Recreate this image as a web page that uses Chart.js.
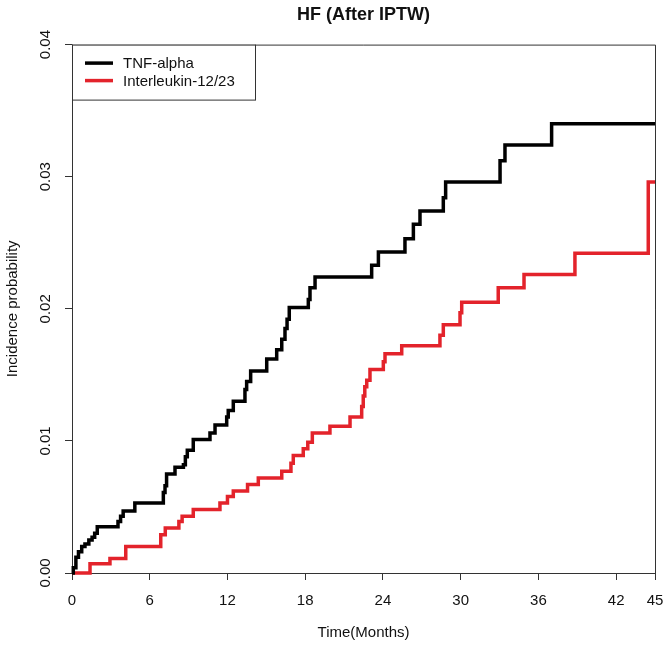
<!DOCTYPE html>
<html>
<head>
<meta charset="utf-8">
<script src="https://cdn.jsdelivr.net/npm/chart.js@4.4.1/dist/chart.umd.min.js"></script>
<style>
  html, body { margin: 0; padding: 0; background: #fff; }
</style>
</head>
<body>
<canvas id="chart" width="667" height="649"></canvas>
<script>
// cumulative incidence steps (months, probability)
const tnfMonths = [0, 0.1, 0.3, 0.5, 0.75, 1.0, 1.3, 1.55, 1.75, 1.95, 3.55, 3.75, 3.95, 4.85,
  7.05, 7.18, 7.3, 7.95, 8.6, 8.75, 8.9, 9.36, 10.65, 11.04, 11.94, 12.06, 12.45, 13.35, 13.48,
  13.79, 15.03, 15.8, 16.19, 16.44, 16.6, 16.77, 18.24, 18.37, 18.76, 23.13, 23.65, 25.7, 26.35,
  26.86, 28.66, 28.84, 33.04, 33.42, 37.02, 45];
const tnfProb = [0, 0.0004, 0.0012, 0.0016, 0.0020, 0.0022, 0.0025, 0.0027, 0.0030, 0.0035, 0.0039, 0.0043, 0.0047, 0.0053,
  0.0061, 0.0066, 0.0075, 0.0080, 0.0082, 0.0088, 0.0093, 0.0101, 0.0106, 0.0112, 0.0118, 0.0123, 0.0130, 0.0139, 0.0145,
  0.0153, 0.0162, 0.0169, 0.0177, 0.0185, 0.0192, 0.0201, 0.0207, 0.0216, 0.0224, 0.0233, 0.0243, 0.0253, 0.0264,
  0.0274, 0.0284, 0.0296, 0.0312, 0.0324, 0.0340, 0.0340];

const ilMonths = [0, 1.39, 2.93, 4.15, 6.85, 7.2, 8.25, 8.5, 9.36, 11.42, 12.0, 12.45, 13.55, 14.38,
  16.19, 16.9, 17.08, 17.85, 18.2, 18.55, 19.91, 21.46, 22.36, 22.48, 22.6, 22.75, 23.0, 24.03,
  24.16, 25.45, 28.4, 28.66, 29.95, 30.08, 32.9, 34.89, 38.82, 44.48, 45];
const ilProb = [0, 0.0007, 0.0011, 0.0020, 0.0029, 0.0034, 0.0039, 0.0043, 0.0048, 0.0053, 0.0058, 0.0062, 0.0067, 0.0072,
  0.0077, 0.0083, 0.0089, 0.0094, 0.0099, 0.0106, 0.0111, 0.0118, 0.0126, 0.0134, 0.0141, 0.0146, 0.0154, 0.0160,
  0.0166, 0.0172, 0.0180, 0.0188, 0.0197, 0.0205, 0.0216, 0.0226, 0.0242, 0.0296, 0.0296];

const seriesLabels = ['TNF-alpha', 'Interleukin-12/23'];
const xTickValues = [0, 6, 12, 18, 24, 30, 36, 42, 45];
const yTickValues = [0, 0.01, 0.02, 0.03, 0.04];

const toPoints = (xs, ys) => xs.map((x, i) => ({ x: x, y: ys[i] }));

const axisColor = '#333';
const baseFont = { family: '"Liberation Sans", Arial, sans-serif', size: 15 };

// R style box around the plot region plus the boxed legend top-left
const boxPlugin = {
  id: 'boxAndLegend',
  afterDatasetsDraw(chart) {
    const { ctx, chartArea } = chart;
    ctx.save();
    ctx.strokeStyle = axisColor;
    ctx.lineWidth = 1;
    ctx.beginPath();
    ctx.moveTo(chartArea.left, chartArea.top + 0.5);
    ctx.lineTo(chartArea.right + 0.5, chartArea.top + 0.5);
    ctx.lineTo(chartArea.right + 0.5, chartArea.bottom);
    ctx.stroke();

    const lx = chartArea.left, ly = chartArea.top, lw = 183, lh = 55;
    ctx.fillStyle = '#fff';
    ctx.fillRect(lx, ly, lw, lh);
    ctx.strokeRect(lx + 0.5, ly + 0.5, lw, lh);

    ctx.font = '15px "Liberation Sans", Arial, sans-serif';
    ctx.textBaseline = 'middle';
    ctx.textAlign = 'left';
    chart.data.datasets.forEach((ds, i) => {
      const y = ly + 18.5 + i * 17.5;
      ctx.strokeStyle = ds.borderColor;
      ctx.lineWidth = 3.5;
      ctx.beginPath();
      ctx.moveTo(lx + 13, y);
      ctx.lineTo(lx + 41, y);
      ctx.stroke();
      ctx.fillStyle = '#111';
      ctx.fillText(ds.label, lx + 51, y + 1);
    });
    ctx.restore();
  }
};

new Chart(document.getElementById('chart'), {
  type: 'line',
  data: {
    datasets: [
      {
        label: seriesLabels[0],
        data: toPoints(tnfMonths, tnfProb),
        borderColor: '#000',
        borderWidth: 3.5,
        stepped: true,
        pointRadius: 0,
        clip: false
      },
      {
        label: seriesLabels[1],
        data: toPoints(ilMonths, ilProb),
        borderColor: '#e3232b',
        borderWidth: 3.5,
        stepped: true,
        pointRadius: 0,
        clip: false
      }
    ]
  },
  options: {
    responsive: false,
    animation: false,
    layout: { padding: { left: 0, right: 12, top: 0, bottom: 0 } },
    plugins: {
      legend: { display: false },
      tooltip: { enabled: false },
      title: {
        display: true,
        text: 'HF (After IPTW)',
        fullSize: false,
        color: '#111',
        font: { family: baseFont.family, size: 18, weight: 'bold' },
        padding: { top: 4, bottom: 19 }
      }
    },
    scales: {
      x: {
        type: 'linear',
        min: 0,
        max: 45,
        afterBuildTicks: (scale) => { scale.ticks = xTickValues.map(v => ({ value: v })); },
        afterFit: (scale) => {
          scale.height = 76;
          scale.paddingLeft = 0;
          scale.paddingRight = 0;
        },
        grid: { drawOnChartArea: false, drawTicks: true, tickLength: 7, color: axisColor },
        border: { display: true, color: axisColor },
        ticks: { color: '#111', font: baseFont, padding: 12, maxRotation: 0, autoSkip: false },
        title: { display: true, text: 'Time(Months)', color: '#111', font: baseFont, padding: { top: 0, bottom: 7 } }
      },
      y: {
        type: 'linear',
        min: 0,
        max: 0.04,
        afterBuildTicks: (scale) => { scale.ticks = yTickValues.map(v => ({ value: v })); },
        afterFit: (scale) => { scale.width = 72; },
        grid: { drawOnChartArea: false, drawTicks: true, tickLength: 7, color: axisColor },
        border: { display: true, color: axisColor },
        ticks: {
          color: '#111',
          font: baseFont,
          minRotation: 90,
          maxRotation: 90,
          crossAlign: 'center',
          padding: 5,
          callback: (v) => v.toFixed(2)
        },
        title: { display: true, text: 'Incidence probability', color: '#111', font: baseFont, padding: { top: 4, bottom: 0 } }
      }
    }
  },
  plugins: [boxPlugin]
});
</script>
</body>
</html>
